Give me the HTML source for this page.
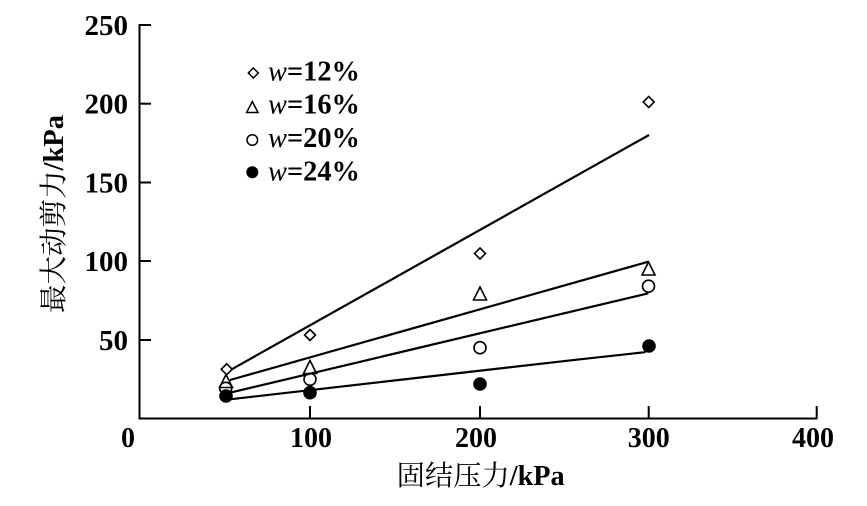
<!DOCTYPE html>
<html>
<head>
<meta charset="utf-8">
<style>
html,body{margin:0;padding:0;background:#fff;}
svg{display:block;}
.t{font-family:"Liberation Serif","Noto Serif CJK SC",serif;font-weight:bold;fill:#000;}
.c{font-family:"Liberation Serif","Noto Serif CJK SC",serif;fill:#000;}
</style>
</head>
<body>
<svg width="867" height="506" viewBox="0 0 867 506" xmlns="http://www.w3.org/2000/svg">
  <rect width="867" height="506" fill="#fff"/>
  <!-- axes -->
  <g stroke="#000" stroke-width="2" fill="none">
    <line x1="139.5" y1="24" x2="139.5" y2="419"/>
    <line x1="138.5" y1="418.5" x2="817.5" y2="418.5"/>
    <!-- y ticks -->
    <line x1="139" y1="25" x2="151" y2="25"/>
    <line x1="139" y1="103.7" x2="151" y2="103.7"/>
    <line x1="139" y1="182.5" x2="151" y2="182.5"/>
    <line x1="139" y1="261" x2="151" y2="261"/>
    <line x1="139" y1="340" x2="151" y2="340"/>
    <!-- x ticks -->
    <line x1="310" y1="418" x2="310" y2="406"/>
    <line x1="480" y1="418" x2="480" y2="406"/>
    <line x1="648.7" y1="418" x2="648.7" y2="406"/>
    <line x1="816.7" y1="418" x2="816.7" y2="406"/>
  </g>
  <!-- y tick labels -->
  <g class="t" font-size="29" text-anchor="end">
    <text x="128" y="35">250</text>
    <text x="128" y="113.7">200</text>
    <text x="128" y="192.5">150</text>
    <text x="128" y="271">100</text>
    <text x="128" y="350">50</text>
  </g>
  <!-- x tick labels -->
  <g class="t" font-size="28" text-anchor="middle">
    <text x="128" y="447">0</text>
    <text x="311" y="447">100</text>
    <text x="476" y="447">200</text>
    <text x="648.7" y="447">300</text>
    <text x="813" y="447">400</text>
  </g>
  <!-- axis titles -->
  <text class="c" x="396.7" y="485" font-size="28" textLength="168" lengthAdjust="spacingAndGlyphs">固结压力<tspan font-weight="bold">/kPa</tspan></text>
  <text class="c" transform="translate(63,313) rotate(-90)" x="0" y="0" font-size="28" textLength="198" lengthAdjust="spacingAndGlyphs">最大动剪力<tspan font-weight="bold">/kPa</tspan></text>

  <!-- fit lines -->
  <g stroke="#000" stroke-width="2.2" fill="none">
    <line x1="231.7" y1="369.3" x2="649" y2="135"/>
    <line x1="230" y1="380" x2="648.3" y2="261.7"/>
    <line x1="230" y1="392.7" x2="648.3" y2="293.3"/>
    <polyline points="230,399.3 580,359.3 644,352.3 648,350"/>
  </g>

  <!-- markers -->
  <g stroke="#000" stroke-width="1.6" fill="none">
    <!-- diamonds w=12% -->
    <path d="M226.7,363.8 L232.2,369.3 L226.7,374.8 L221.2,369.3 Z"/>
    <path d="M310,329.5 L315.5,335 L310,340.5 L304.5,335 Z"/>
    <path d="M480,248 L485.5,253.5 L480,259 L474.5,253.5 Z"/>
    <path d="M648.7,96.5 L654.2,102 L648.7,107.5 L643.2,102 Z"/>
    <!-- triangles w=16% -->
    <path d="M226,374.5 L232.5,387.5 L219.5,387.5 Z"/>
    <path d="M310,360.5 L316.5,373.5 L303.5,373.5 Z"/>
    <path d="M480,287 L486.5,300 L473.5,300 Z"/>
    <path d="M648.5,262 L655,275 L642,275 Z"/>
    <!-- circles w=20% -->
    <circle cx="225.7" cy="388.3" r="6"/>
    <circle cx="310" cy="379.3" r="6"/>
    <circle cx="480" cy="347.7" r="6"/>
    <circle cx="648.5" cy="286.2" r="6"/>
  </g>
  <g fill="#000">
    <circle cx="226" cy="396" r="6.8"/>
    <circle cx="310" cy="392.7" r="6.8"/>
    <circle cx="480" cy="384" r="6.8"/>
    <circle cx="649" cy="346" r="6.8"/>
  </g>

  <!-- legend -->
  <g stroke="#000" stroke-width="1.5" fill="none">
    <path d="M253.3,68 L258.3,73 L253.3,78 L248.3,73 Z"/>
    <path d="M252.3,101.5 L258,112.5 L246.6,112.5 Z"/>
    <circle cx="252.3" cy="140" r="5.3"/>
  </g>
  <circle cx="252.3" cy="172.3" r="6" fill="#000"/>
  <g class="t" font-size="28">
    <text x="268" y="80.3" textLength="92" lengthAdjust="spacingAndGlyphs"><tspan font-style="italic" font-weight="normal">w</tspan>=12%</text>
    <text x="268" y="113.3" textLength="92" lengthAdjust="spacingAndGlyphs"><tspan font-style="italic" font-weight="normal">w</tspan>=16%</text>
    <text x="268" y="146.8" textLength="92" lengthAdjust="spacingAndGlyphs"><tspan font-style="italic" font-weight="normal">w</tspan>=20%</text>
    <text x="268" y="180.3" textLength="92" lengthAdjust="spacingAndGlyphs"><tspan font-style="italic" font-weight="normal">w</tspan>=24%</text>
  </g>
</svg>
</body>
</html>
